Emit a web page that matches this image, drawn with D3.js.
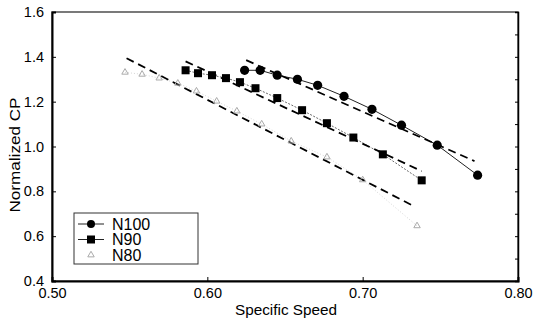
<!DOCTYPE html>
<meta charset="utf-8">
<style>
body { margin: 0; background: #fff; }
text { font-family: "Liberation Sans", Arial, sans-serif; fill: #000; }
</style>
<svg width="533" height="324"></svg>
<script src="https://d3js.org/d3.v7.min.js"></script>
<script>

// measured points
var n100x = [0.624, 0.634, 0.645, 0.658, 0.671, 0.688, 0.706, 0.725, 0.748, 0.774];
var n100y = [1.34, 1.34, 1.318, 1.30, 1.273, 1.224, 1.166, 1.095, 1.006, 0.872];

var n90x = [0.586, 0.594, 0.603, 0.612, 0.621, 0.631, 0.645, 0.661, 0.677, 0.694, 0.713, 0.738];
var n90y = [1.34, 1.327, 1.318, 1.305, 1.287, 1.26, 1.216, 1.162, 1.104, 1.04, 0.965, 0.849];

var n80x = [0.547, 0.558, 0.569, 0.581, 0.593, 0.606, 0.619, 0.635, 0.654, 0.677, 0.700, 0.735];
var n80y = [1.331, 1.322, 1.305, 1.282, 1.247, 1.202, 1.158, 1.10, 1.024, 0.953, 0.851, 0.646];

// dashed trend lines (start / end)
var fit100 = [[0.625, 1.385], [0.772, 0.935]];
var fit90 = [[0.586, 1.38], [0.738, 0.89]];
var fit80 = [[0.548, 1.394], [0.734, 0.73]];

var xTicks = [0.50, 0.60, 0.70, 0.80];
var yTicks = [0.4, 0.6, 0.8, 1.0, 1.2, 1.4, 1.6];

var svg = d3.select("svg"),
    margin = {left: 52, right: 15, top: 12, bottom: 43},
    width = 533 - margin.left - margin.right,
    height = 324 - margin.top - margin.bottom,
    g = svg.append("g").attr("transform", "translate(" + margin.left + "," + margin.top + ")");

var x = d3.scaleLinear().domain([0.5, 0.8]).range([0, width]);
var y = d3.scaleLinear().domain([0.4, 1.6]).range([height, 0]);

function pts(xs, ys) {
  return xs.map(function(d, i) { return [d, ys[i]]; });
}

var line = d3.line()
    .x(function(d) { return x(d[0]); })
    .y(function(d) { return y(d[1]); });

// frame
g.append("rect")
    .attr("width", width)
    .attr("height", height)
    .attr("fill", "none")
    .attr("stroke", "#222")
    .attr("stroke-width", 1.2);

// axes
g.append("g")
    .attr("transform", "translate(0," + height + ")")
    .call(d3.axisBottom(x).tickValues(xTicks).tickFormat(d3.format(".2f")).tickSize(-4).tickPadding(7))
    .call(function(a) {
      a.select(".domain").attr("stroke-width", 2);
      a.selectAll("text").style("font-size", "14.5px");
    });

g.append("g")
    .call(d3.axisLeft(y).tickValues(yTicks).tickFormat(d3.format(".1f")).tickSize(-4).tickPadding(8))
    .call(function(a) {
      a.select(".domain").attr("stroke-width", 2);
      a.selectAll("text").style("font-size", "14.5px");
    });

// right side small ticks
g.append("g")
    .attr("transform", "translate(" + width + ",0)")
    .call(d3.axisRight(y).tickValues(d3.range(0.4, 1.61, 0.1)).tickSize(-3).tickFormat(""))
    .call(function(a) { a.select(".domain").attr("stroke-width", 1.5); });

// connecting lines
g.append("path").datum(pts(n80x, n80y)).attr("d", line)
    .attr("fill", "none").attr("stroke", "#ccc").attr("stroke-width", 0.8).attr("stroke-dasharray", "1,2");
g.append("path").datum(pts(n90x, n90y)).attr("d", line)
    .attr("fill", "none").attr("stroke", "#444").attr("stroke-width", 0.8).attr("stroke-dasharray", "2,1.5");
g.append("path").datum(pts(n100x, n100y)).attr("d", line)
    .attr("fill", "none").attr("stroke", "#222").attr("stroke-width", 1);

// dashed fits
[fit100, fit90, fit80].forEach(function(f) {
  g.append("path").datum(f).attr("d", line)
      .attr("fill", "none").attr("stroke", "#000")
      .attr("stroke-width", 1.8).attr("stroke-dasharray", "8,5");
});

var tri = d3.symbol().type(d3.symbolTriangle).size(18);

// markers
g.selectAll(".n80").data(pts(n80x, n80y)).enter().append("path")
    .attr("class", "n80")
    .attr("d", tri)
    .attr("transform", function(d) { return "translate(" + x(d[0]) + "," + y(d[1]) + ")"; })
    .attr("fill", "none").attr("stroke", "#aaa").attr("stroke-width", 1);

g.selectAll(".n90").data(pts(n90x, n90y)).enter().append("rect")
    .attr("class", "n90")
    .attr("x", function(d) { return x(d[0]) - 4; })
    .attr("y", function(d) { return y(d[1]) - 4; })
    .attr("width", 8).attr("height", 8)
    .attr("fill", "#000");

g.selectAll(".n100").data(pts(n100x, n100y)).enter().append("circle")
    .attr("class", "n100")
    .attr("cx", function(d) { return x(d[0]); })
    .attr("cy", function(d) { return y(d[1]); })
    .attr("r", 4.6)
    .attr("fill", "#000");

// axis titles
svg.append("text")
    .attr("x", 286)
    .attr("y", 315)
    .attr("text-anchor", "middle")
    .attr("textLength", 102)
    .attr("lengthAdjust", "spacingAndGlyphs")
    .style("font-size", "14.5px")
    .text("Specific Speed");

svg.append("text")
    .attr("transform", "translate(20,155) rotate(-90)")
    .attr("text-anchor", "middle")
    .attr("textLength", 115)
    .attr("lengthAdjust", "spacingAndGlyphs")
    .style("font-size", "14.5px")
    .text("Normalized CP");

// legend
var leg = svg.append("g").attr("transform", "translate(74,213)");
leg.append("rect")
    .attr("width", 124).attr("height", 51)
    .attr("fill", "#fff").attr("stroke", "#333").attr("stroke-width", 1);

var items = ["N100", "N90", "N80"];
items.forEach(function(name, i) {
  var cy = 11 + i * 15.5;
  if (i < 2) {
    leg.append("line").attr("x1", 4).attr("x2", 30).attr("y1", cy).attr("y2", cy)
        .attr("stroke", "#222").attr("stroke-width", 1);
  }
  if (i === 0) leg.append("circle").attr("cx", 17).attr("cy", cy).attr("r", 4).attr("fill", "#000");
  if (i === 1) leg.append("rect").attr("x", 13).attr("y", cy - 4).attr("width", 8).attr("height", 8).attr("fill", "#000");
  if (i === 2) leg.append("path").attr("d", tri).attr("transform", "translate(17," + cy + ")")
      .attr("fill", "none").attr("stroke", "#aaa");
  leg.append("text")
      .attr("x", 38).attr("y", cy + 5.5)
      .style("font-size", "16px")
      .text(name);
});

</script>
